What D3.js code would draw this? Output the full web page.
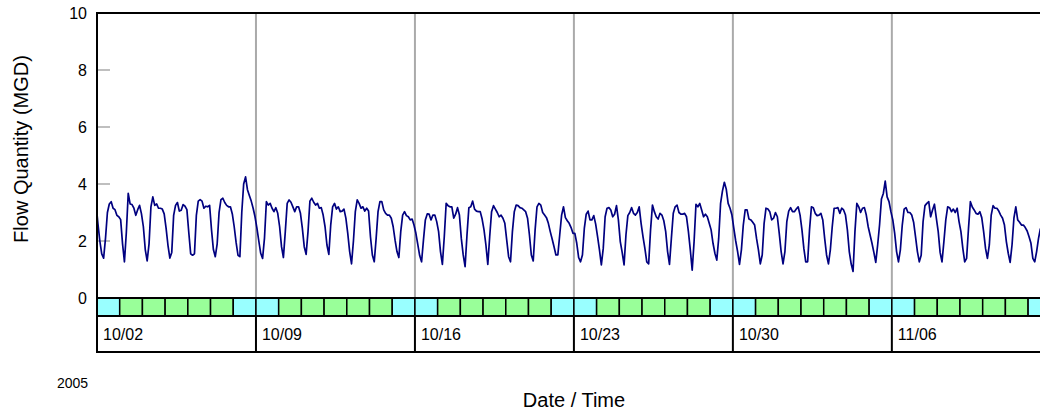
<!DOCTYPE html>
<html>
<head>
<meta charset="utf-8">
<script src="https://cdn.jsdelivr.net/npm/d3@7"></script>
<style>
  html, body { margin: 0; padding: 0; background: #fff; }
  svg { display: block; font-family: "Liberation Sans", Arial, sans-serif; }
</style>
</head>
<body>
<svg id="chart" width="1040" height="410"></svg>
<script>
// Flow readings, one every 2 hours, first reading 2005-10-01 23:00
const seriesStart = new Date(2005, 9, 1, 23);
const stepHours = 2;

const week1 = [3.3,
  2.6, 2.0, 1.55, 1.4, 2.1, 3.0, 3.3, 3.38, 3.15, 3.1, 2.9, 2.85,
  2.75, 1.9, 1.27, 2.3, 3.67, 3.3, 3.28, 3.15, 2.9, 3.1, 3.25, 2.95,
  2.5, 1.7, 1.3, 1.9, 3.2, 3.55, 3.25, 3.3, 3.15, 3.15, 3.12, 2.95,
  2.45, 1.85, 1.4, 1.6, 2.9, 3.25, 3.35, 3.05, 3.08, 3.28, 3.22, 3.1,
  2.3, 1.55, 1.5, 1.55, 2.9, 3.4, 3.45, 3.4, 3.15, 3.22, 3.2, 3.25,
  2.4, 1.7, 1.45, 1.9, 3.0, 3.45, 3.5, 3.35, 3.25, 3.2, 3.2, 2.95,
  2.5, 1.95, 1.5, 1.45, 3.0, 4.0, 4.25, 3.8, 3.6, 3.4, 3.15, 2.85];

const week2 = [
  2.45, 2.0, 1.57, 1.39, 2.1, 3.38, 3.26, 3.32, 3.15, 3.03, 3.17, 2.97,
  2.5, 1.8, 1.42, 2.33, 3.32, 3.44, 3.36, 3.2, 3.03, 3.2, 3.2, 2.97,
  2.45, 1.8, 1.53, 2.33, 3.4, 3.5, 3.36, 3.26, 3.32, 3.15, 3.17, 2.91,
  2.5, 1.86, 1.53, 2.56, 3.2, 3.32, 3.12, 3.2, 3.03, 3.05, 3.12, 2.8,
  2.27, 1.63, 1.2, 2.0, 3.03, 3.44, 3.32, 3.15, 3.2, 3.05, 3.15, 3.05,
  2.15, 1.51, 1.27, 2.09, 3.03, 3.38, 3.38, 3.09, 2.97, 2.91, 2.91, 2.8,
  2.5, 2.03, 1.63, 1.42, 2.33, 2.91, 3.03, 2.89, 2.85, 2.74, 2.77, 2.56];

const week3 = [
  2.27, 1.88, 1.49, 1.27, 2.03, 2.74, 2.95, 2.94, 2.74, 2.91, 2.91, 2.68,
  2.33, 1.63, 1.18, 2.15, 3.32, 3.24, 3.2, 3.2, 2.8, 2.94, 3.17, 2.91,
  2.09, 1.51, 1.1, 2.21, 3.17, 3.2, 3.4, 3.12, 3.05, 3.03, 3.03, 2.77,
  2.39, 1.86, 1.18, 2.15, 3.03, 3.24, 3.12, 3.0, 2.85, 2.91, 2.8, 2.62,
  2.03, 1.45, 1.27, 2.33, 3.03, 3.26, 3.24, 3.17, 3.15, 3.09, 3.03, 2.8,
  2.21, 1.51, 1.3, 2.39, 3.2, 3.32, 3.26, 3.0, 2.91, 2.82, 2.62, 2.33,
  2.07, 1.8, 1.51, 1.51, 2.21, 2.91, 3.2, 2.82, 2.71, 2.62, 2.47, 2.27];

const week4 = [
  2.27, 1.92, 1.42, 1.27, 1.51, 2.44, 2.94, 3.05, 2.74, 2.74, 2.89, 2.59,
  2.15, 1.69, 1.16, 1.74, 2.85, 3.15, 3.17, 3.09, 2.85, 2.94, 3.24, 2.74,
  1.98, 1.6, 1.16, 2.21, 2.89, 3.0, 3.17, 2.97, 2.91, 3.0, 3.2, 2.62,
  2.15, 1.74, 1.27, 1.2, 2.39, 3.26, 3.03, 2.85, 2.77, 2.97, 2.91, 2.71,
  2.33, 1.63, 1.18, 2.09, 2.97, 3.2, 3.26, 3.0, 2.94, 2.94, 2.97, 2.85,
  2.33, 1.69, 0.98, 1.98, 3.29, 3.2, 3.32, 3.09, 2.85, 2.94, 2.85, 2.62,
  2.39, 1.92, 1.57, 1.33, 2.09, 3.32, 3.76, 4.06, 3.82, 3.32, 3.15, 2.91];

const week5 = [
  2.44, 2.0, 1.63, 1.18, 1.69, 2.56, 3.09, 3.09, 2.77, 2.74, 2.66, 2.56,
  2.09, 1.69, 1.2, 1.51, 2.62, 3.15, 3.12, 3.03, 2.74, 2.8, 3.0, 2.85,
  2.27, 1.63, 1.2, 1.63, 2.68, 3.05, 3.17, 3.03, 3.03, 3.12, 3.2, 2.91,
  2.39, 1.74, 1.27, 1.27, 2.39, 3.2, 3.17, 2.97, 2.89, 2.91, 2.97, 2.74,
  2.09, 1.51, 1.2, 1.69, 2.5, 3.15, 3.15, 3.17, 2.97, 3.15, 3.09, 2.91,
  2.39, 1.63, 1.2, 0.93, 2.33, 3.32, 3.2, 3.0, 3.15, 3.17, 2.91, 2.5,
  2.21, 1.92, 1.6, 1.25, 1.86, 2.56, 3.47, 3.67, 4.1, 3.55, 3.38, 3.03];

const week6 = [
  2.74, 2.27, 1.63, 1.27, 1.69, 2.56, 3.12, 3.17, 3.0, 3.0, 2.91, 2.66,
  2.15, 1.63, 1.27, 1.5, 2.68, 3.24, 3.32, 3.38, 2.85, 3.09, 3.29, 2.8,
  2.33, 1.6, 1.27, 1.98, 2.74, 3.2, 3.17, 3.03, 3.12, 3.0, 3.15, 2.68,
  2.33, 1.74, 1.27, 1.39, 2.44, 3.38, 3.19, 3.09, 2.97, 2.94, 3.03, 2.82,
  2.33, 1.74, 1.39, 1.86, 2.91, 3.24, 3.15, 3.15, 3.05, 2.91, 2.8, 2.56,
  1.98, 1.57, 1.25, 1.86, 2.8, 3.2, 2.74, 2.66, 2.56, 2.56, 2.47, 2.35,
  2.15, 1.92, 1.39, 1.27, 1.63, 2.09, 2.44];

const yTicks = [0, 2, 4, 6, 8, 10];
const dateStart = new Date(2005, 9, 2);
const dateEnd = new Date(2005, 10, 13);
const yearLabel = "2005";
const yTitle = "Flow Quantity (MGD)";
const xTitle = "Date / Time";

const colors = {
  line: "#000080",
  weekend: "#99ffff",
  weekday: "#99ff99",
  grid: "#aaaaaa",
  axis: "#000000"
};

const flow = [].concat(week1, week2, week3, week4, week5, week6)
  .map((v, i) => ({ t: d3.timeHour.offset(seriesStart, i * stepHours), v }));

const svg = d3.select("#chart");
const W = 1040;
const plot = { left: 97, top: 13, bottom: 298 };
const stripH = 18;
const bandBottom = 352;
const dayWidth = 158.97 / 7;
const nDays = d3.timeDay.count(dateStart, dateEnd);

const x = d3.scaleTime()
  .domain([dateStart, dateEnd])
  .range([plot.left, plot.left + nDays * dayWidth]);
const y = d3.scaleLinear().domain([0, 10]).range([plot.bottom, plot.top]);

const days = d3.timeDay.range(dateStart, dateEnd);
const weeks = d3.timeSunday.range(dateStart, dateEnd);

// weekly vertical grid
svg.append("g").selectAll("line").data(weeks.slice(1)).join("line")
  .attr("x1", d => x(d)).attr("x2", d => x(d))
  .attr("y1", plot.top).attr("y2", plot.bottom)
  .attr("stroke", colors.grid).attr("stroke-width", 2);

// y tick marks
svg.append("g").selectAll("line").data(yTicks.filter(t => t > 0 && t < 10)).join("line")
  .attr("x1", plot.left).attr("x2", plot.left + 13)
  .attr("y1", d => y(d)).attr("y2", d => y(d))
  .attr("stroke", colors.grid).attr("stroke-width", 1.5);

// y tick labels
svg.append("g").selectAll("text").data(yTicks).join("text")
  .attr("x", 87).attr("y", d => y(d) + 5.5)
  .attr("text-anchor", "end")
  .attr("font-size", 16)
  .attr("fill", "#000")
  .text(d => d);

// flow line
svg.append("clipPath").attr("id", "plotClip")
  .append("rect")
  .attr("x", plot.left).attr("y", plot.top - 2)
  .attr("width", W - plot.left).attr("height", plot.bottom - plot.top + 2);

svg.append("path")
  .datum(flow)
  .attr("clip-path", "url(#plotClip)")
  .attr("fill", "none")
  .attr("stroke", colors.line)
  .attr("stroke-width", 1.7)
  .attr("stroke-linejoin", "round")
  .attr("d", d3.line().x(d => x(d.t)).y(d => y(d.v)));

// day-of-week strip
svg.append("g").selectAll("rect").data(days).join("rect")
  .attr("x", d => x(d))
  .attr("y", plot.bottom)
  .attr("width", d => x(d3.timeDay.offset(d, 1)) - x(d))
  .attr("height", stripH)
  .attr("fill", d => (d.getDay() === 0 || d.getDay() === 6) ? colors.weekend : colors.weekday)
  .attr("stroke", colors.axis)
  .attr("stroke-width", 1.5);

// strip top / bottom borders
[plot.bottom, plot.bottom + stripH].forEach(yy => {
  svg.append("line")
    .attr("x1", plot.left).attr("x2", W)
    .attr("y1", yy).attr("y2", yy)
    .attr("stroke", colors.axis).attr("stroke-width", 2);
});

// week separators in the date band
svg.append("g").selectAll("line").data(weeks.slice(1)).join("line")
  .attr("x1", d => x(d)).attr("x2", d => x(d))
  .attr("y1", plot.bottom + stripH).attr("y2", bandBottom)
  .attr("stroke", colors.axis).attr("stroke-width", 2);

// week date labels
const fmt = d3.timeFormat("%m/%d");
svg.append("g").selectAll("text").data(weeks).join("text")
  .attr("x", d => x(d) + 6)
  .attr("y", 340)
  .attr("font-size", 16)
  .attr("fill", "#000")
  .text(d => fmt(d));

// frame: top, left, bottom of date band
svg.append("line")
  .attr("x1", plot.left).attr("x2", W)
  .attr("y1", plot.top).attr("y2", plot.top)
  .attr("stroke", colors.axis).attr("stroke-width", 2);
svg.append("line")
  .attr("x1", plot.left).attr("x2", plot.left)
  .attr("y1", plot.top - 1).attr("y2", bandBottom + 1)
  .attr("stroke", colors.axis).attr("stroke-width", 2);
svg.append("line")
  .attr("x1", plot.left).attr("x2", W)
  .attr("y1", bandBottom).attr("y2", bandBottom)
  .attr("stroke", colors.axis).attr("stroke-width", 2);

// titles
svg.append("text")
  .attr("x", 57).attr("y", 388)
  .attr("font-size", 14)
  .attr("fill", "#000")
  .text(yearLabel);

svg.append("text")
  .attr("x", 574).attr("y", 407)
  .attr("text-anchor", "middle")
  .attr("font-size", 20)
  .attr("fill", "#000")
  .text(xTitle);

svg.append("text")
  .attr("transform", "translate(28,149) rotate(-90)")
  .attr("text-anchor", "middle")
  .attr("font-size", 20)
  .attr("fill", "#000")
  .text(yTitle);
</script>
</body>
</html>
